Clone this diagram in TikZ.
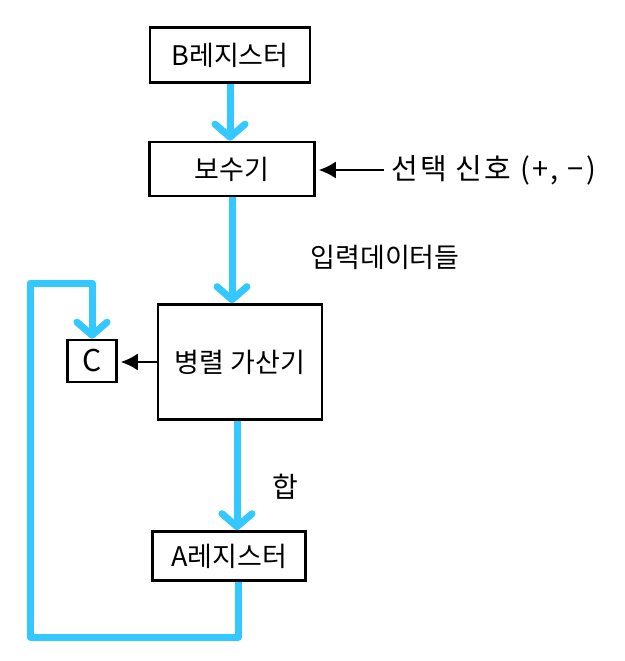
\documentclass[tikz,border=0pt]{standalone}
\usepackage{fontspec}
\setmainfont{Noto Sans CJK KR}
\usetikzlibrary{arrows.meta}
\definecolor{flowblue}{RGB}{51,200,255}
\begin{document}
\begin{tikzpicture}[x=1pt,y=-1pt,
  box/.style={draw=black,line width=2.6pt,rectangle,inner sep=0pt,font=\fontsize{27}{30}\selectfont},
  lbl/.style={font=\fontsize{27}{30}\selectfont,inner sep=0pt},
  flow/.style={draw=flowblue,line width=7pt,line join=round,-{Straight Barb[length=13pt,width=30pt,line width=7pt,round]}},
  ctrl/.style={draw=black,line width=2pt,-{Latex[length=17pt,width=17pt]}}]
\useasboundingbox (0,0) rectangle (624,661);
\node[box,minimum width=160pt,minimum height=55pt] (B) at (230,55) {B레지스터};
\node[box,minimum width=165pt,minimum height=54pt] (comp) at (232,169) {보수기};
\node[box,minimum width=164pt,minimum height=115pt] (adder) at (240,362) {병렬 가산기};
\node[box,minimum width=49pt,minimum height=42pt,font=\fontsize{30}{32}\selectfont] (C) at (92,361) {C};
\node[box,minimum width=153pt,minimum height=49pt] (A) at (229,556) {A레지스터};
\node[lbl,anchor=west,font=\fontsize{29}{32}\selectfont\addfontfeature{LetterSpace=8}] (sel) at (391,170) {선택 신호 (+, −)};
\node[lbl] (inp) at (385,257) {입력데이터들};
\node[lbl,font=\fontsize{28}{30}\selectfont] (sum) at (285,487) {합};
\coordinate (l1) at (30,637);
\coordinate (l2) at (30,283);
\draw[flow] (B.south) -- (B.south |- comp.north);
\draw[flow] (comp.south) -- (comp.south |- adder.north);
\draw[flow] ([xshift=-3pt]adder.south) -- ([xshift=-3pt]adder.south |- A.north);
\draw[flow] ([xshift=9pt]A.south) |- (l1) -- (l2) -| (C.north);
\draw[ctrl] ([xshift=-7pt]sel.west) -- ([xshift=3pt]sel.west -| comp.east);
\draw[ctrl] (adder.west) -- ([xshift=3pt]adder.west -| C.east);
\end{tikzpicture}
\end{document}
